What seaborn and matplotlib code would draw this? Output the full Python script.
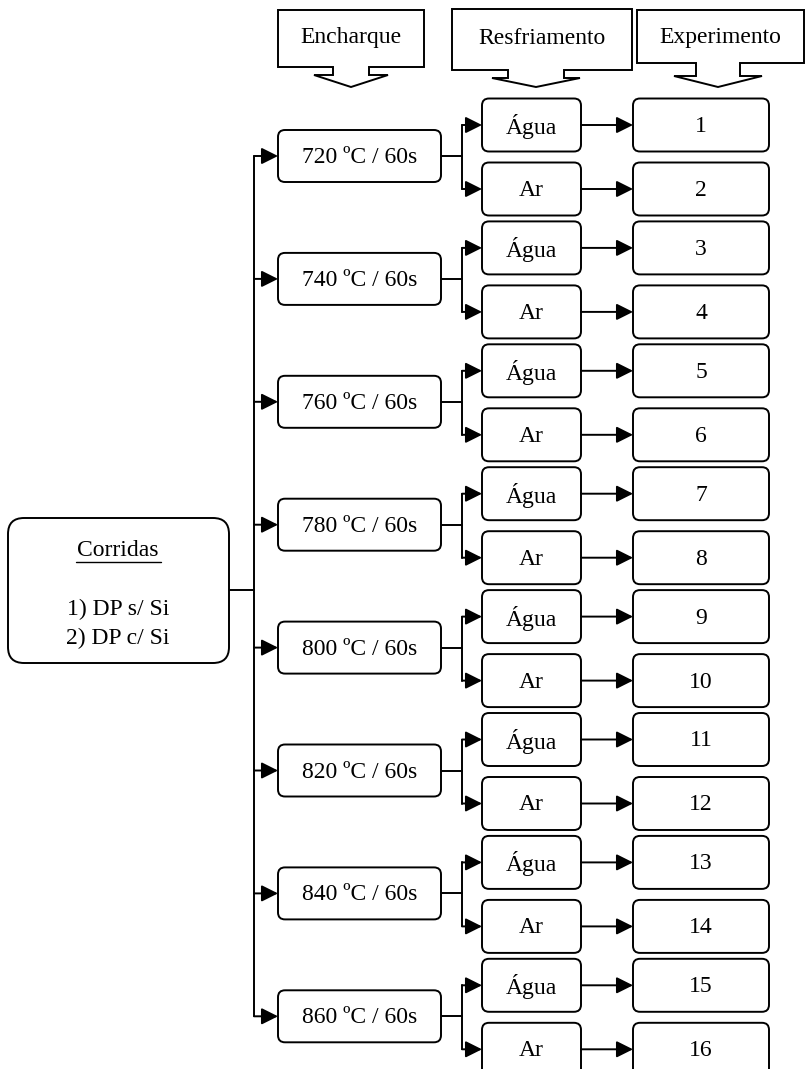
import numpy as np
import pandas as pd
import seaborn as sns
import matplotlib.pyplot as plt
from matplotlib.patches import FancyBboxPatch, Polygon

sns.set_theme(style="white")
plt.rcParams['font.family'] = ['Liberation Serif', 'DejaVu Serif']
plt.rcParams['text.color'] = 'black'

# data
temperatures = [720, 740, 760, 780, 800, 820, 840, 860]
coolings = ["Água", "Ar"]
experiments = list(range(1, 17))
headers = ["Encharque", "Resfriamento", "Experimento"]
corridas = ["1) DP s/ Si", "2) DP c/ Si"]

W, H = 807, 1069
FS = 17
LW = 1.4

fig = plt.figure(figsize=(W / 100, H / 100), dpi=100)
ax = fig.add_axes([0, 0, 1, 1])


def rbox(x0, x1, y0, y1, text=None, r=7, fs=FS):
    p = FancyBboxPatch((x0, y0), x1 - x0, y1 - y0,
                       boxstyle=f"round,pad=0,rounding_size={r}",
                       fc="white", ec="black", lw=LW, zorder=3)
    ax.add_patch(p)
    if text is not None:
        ax.text((x0 + x1) / 2, (y0 + y1) / 2 + 1.5, text,
                ha="center", va="center", fontsize=fs, zorder=4)


def arrow(x0, x1, y):
    ax.annotate("", xy=(x1, y), xytext=(x0, y),
                arrowprops=dict(arrowstyle="-|>,head_length=1.0,head_width=0.5",
                                mutation_scale=10, lw=LW, color="black",
                                shrinkA=0, shrinkB=0), zorder=5)


# layout
y_first, step = 156, 122.9
yc = y_first + step * np.arange(len(temperatures))
trunk_x = 254
tb = (278, 441)
cb = (482, 581)
eb = (633, 769)
split_x = 462
dy = {"Água": -31, "Ar": 33}

# connector segments via seaborn
segs = []
sid = 0
segs += [(sid, 229, 590), (sid, trunk_x, 590)]
sid += 1
segs += [(sid, trunk_x, yc[0]), (sid, trunk_x, yc[-1])]
for y in yc:
    sid += 1
    segs += [(sid, tb[1], y), (sid, split_x, y)]
    sid += 1
    segs += [(sid, split_x, y + dy["Água"]), (sid, split_x, y + dy["Ar"])]
seg_df = pd.DataFrame(segs, columns=["seg", "x", "y"])
sns.lineplot(data=seg_df, x="x", y="y", units="seg", estimator=None, sort=False,
             color="black", lw=LW, ax=ax, legend=False)
ax.set_xlim(0, W)
ax.set_ylim(H, 0)
ax.axis("off")

# header callouts: box x0, x1, y0, y1, tip x, stem half width, wing half width, stem bottom, tip y
callouts = [
    (278, 424, 10, 67, 351, 18, 37, 75, 87),
    (452, 632, 9, 70, 536, 28, 44, 78, 87),
    (637, 804, 10, 63, 718, 22, 44, 76, 87),
]
for name, (x0, x1, y0, y1, tx, sh, wh, ys, yt) in zip(headers, callouts):
    pts = [(x0, y0), (x1, y0), (x1, y1), (tx + sh, y1), (tx + sh, ys), (tx + wh, ys),
           (tx, yt), (tx - wh, ys), (tx - sh, ys), (tx - sh, y1), (x0, y1)]
    ax.add_patch(Polygon(pts, closed=True, fc="white", ec="black", lw=LW,
                         joinstyle="miter", zorder=3))
    ax.text((x0 + x1) / 2, 38, name, ha="center", va="center", fontsize=FS, zorder=4)

# Corridas box
rbox(8, 229, 518, 663, r=16)
ax.text(118, 550, "Corridas", ha="center", va="center", fontsize=FS, zorder=4)
ax.plot([76, 161], [562, 562], color="black", lw=1.0, zorder=4)
for i, t in enumerate(corridas):
    ax.text(118, 609 + 29 * i, t, ha="center", va="center", fontsize=FS, zorder=4)

k = 0
for t, y in zip(temperatures, yc):
    arrow(trunk_x, tb[0], y)
    rbox(tb[0], tb[1], y - 26, y + 26, f"{t} ºC / 60s")
    for c in coolings:
        cy = y + dy[c]
        arrow(split_x, cb[0], cy)
        rbox(cb[0], cb[1], cy - 26.5, cy + 26.5, c)
        arrow(cb[1], eb[0], cy)
        rbox(eb[0], eb[1], cy - 26.5, cy + 26.5, str(experiments[k]))
        k += 1

fig.savefig("out.png", dpi=100)
